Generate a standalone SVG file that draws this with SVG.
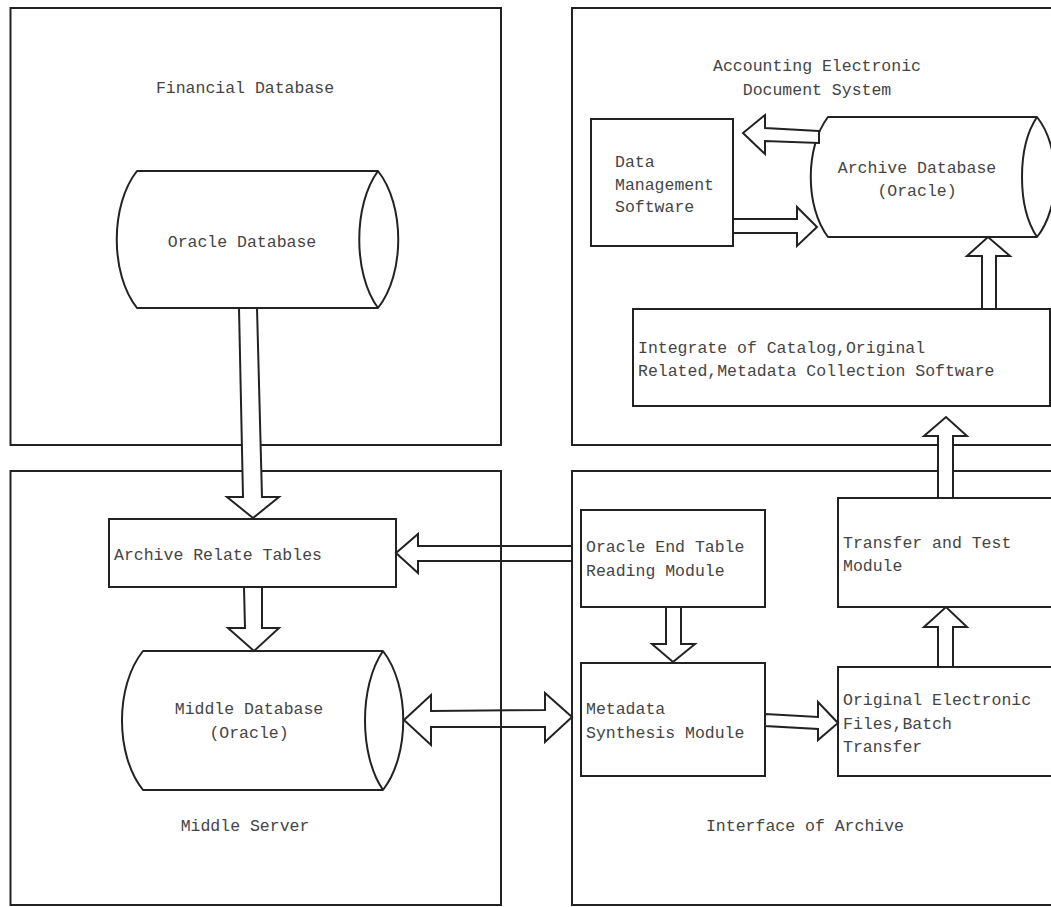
<svg xmlns="http://www.w3.org/2000/svg" width="1051" height="907" viewBox="0 0 1051 907">
<style>
.frame{fill:none;stroke:#222;stroke-width:2}
.box{fill:#fff;stroke:#222;stroke-width:2}
.db{fill:#fff;stroke:#222;stroke-width:2;stroke-linejoin:round}
.lens{fill:none;stroke:#222;stroke-width:2}
.arrow{fill:#fff;stroke:#222;stroke-width:2;stroke-linejoin:miter}
.arrow-open{fill:none;stroke:#222;stroke-width:2;stroke-linejoin:miter}
text{font-family:"Liberation Mono","Courier New",monospace;font-size:16.5px;fill:#444}
.c{text-anchor:middle}
</style>
<rect width="1051" height="907" fill="#fff"/>
<g id="financial-database">
<rect class="frame" x="10.5" y="8" width="490.5" height="437"/>
<text class="c" x="245" y="93">Financial Database</text>
</g>
<g id="accounting-system">
<rect class="frame" x="572" y="8" width="490" height="437"/>
<text class="c" x="817" y="71">Accounting Electronic</text>
<text class="c" x="817" y="95">Document System</text>
</g>
<g id="middle-server">
<rect class="frame" x="10.5" y="471" width="490.5" height="434"/>
<text class="c" x="245" y="831">Middle Server</text>
</g>
<g id="interface-of-archive">
<rect class="frame" x="572" y="471" width="490" height="434"/>
<text class="c" x="805" y="831">Interface of Archive</text>
</g>
<g id="oracle-database">
<path class="db" d="M137,171 H378 C405,205 405,274 378,308 H137 C110,274 110,205 137,171 Z"/>
<path class="lens" d="M378,171 C353,205 353,274 378,308"/>
<text class="c" x="242" y="247">Oracle Database</text>
</g>
<g id="data-management-software">
<rect class="box" x="591" y="119" width="142" height="127"/>
<text x="615" y="167">Data</text>
<text x="615" y="190">Management</text>
<text x="615" y="212">Software</text>
</g>
<g id="archive-database">
<path class="db" d="M828,117 H1037 C1061,147 1061,207 1037,237 H828 C805,207 805,147 828,117 Z"/>
<path class="lens" d="M1037,117 C1017,147 1017,207 1037,237"/>
<text class="c" x="917" y="173">Archive Database</text>
<text class="c" x="917" y="196">(Oracle)</text>
</g>
<g id="integrate-software">
<rect class="box" x="633" y="309" width="417" height="97"/>
<text x="638" y="353">Integrate of Catalog,Original</text>
<text x="638" y="376">Related,Metadata Collection Software</text>
</g>
<g id="archive-relate-tables">
<rect class="box" x="109" y="519" width="287" height="68"/>
<text x="114" y="560">Archive Relate Tables</text>
</g>
<g id="middle-database">
<path class="db" d="M143,651 H383 C410,686 410,755 383,790 H143 C115,755 115,686 143,651 Z"/>
<path class="lens" d="M383,651 C359,686 359,755 383,790"/>
<text class="c" x="249" y="714">Middle Database</text>
<text class="c" x="249" y="738">(Oracle)</text>
</g>
<g id="oracle-end-table-reading-module">
<rect class="box" x="581" y="510" width="184" height="97"/>
<text x="586" y="552">Oracle End Table</text>
<text x="586" y="576">Reading Module</text>
</g>
<g id="metadata-synthesis-module">
<rect class="box" x="581" y="663" width="184" height="113"/>
<text x="586" y="714">Metadata</text>
<text x="586" y="738">Synthesis Module</text>
</g>
<g id="transfer-and-test-module">
<rect class="box" x="838" y="498" width="220" height="109"/>
<text x="843" y="548">Transfer and Test</text>
<text x="843" y="571">Module</text>
</g>
<g id="original-electronic-files">
<rect class="box" x="838" y="667" width="220" height="109"/>
<text x="843" y="705">Original Electronic</text>
<text x="843" y="729">Files,Batch</text>
<text x="843" y="752">Transfer</text>
</g>
<g id="connectors">
<polygon class="arrow" points="239,308 243,497 227,497 253,518 279,497 262,497 257,308"/>
<polygon class="arrow" points="244,587 245,628 228,628 254,651 279,628 262,628 262,587"/>
<polygon class="arrow-open" points="572,546 418,546 418,534 396,553 418,573 418,561 572,561"/>
<polygon class="arrow-open" points="404,720 431,695 431,711 545,710 545,693 572,717 545,742 545,727 431,727 431,745"/>
<polygon class="arrow" points="666,607 666,644 652,644 673,662 695,644 681,644 681,607"/>
<polygon class="arrow" points="765,714 818,717 818,702 838,723 818,740 818,729 765,726"/>
<polygon class="arrow" points="938,667 938,627 924,627 946,607 967,627 953,627 953,667"/>
<polygon class="arrow" points="938,498 938,436 924,436 946,417 967,436 953,436 953,498"/>
<polygon class="arrow" points="982,309 982,256 967,256 988,237 1010,256 996,256 996,309"/>
<polygon class="arrow" points="733,219 797,219 797,207 817,227 797,246 797,233 733,233"/>
<polygon class="arrow" points="819,131 765,128 765,115 743,133 765,154 765,141 819,143"/>
</g>
</svg>
